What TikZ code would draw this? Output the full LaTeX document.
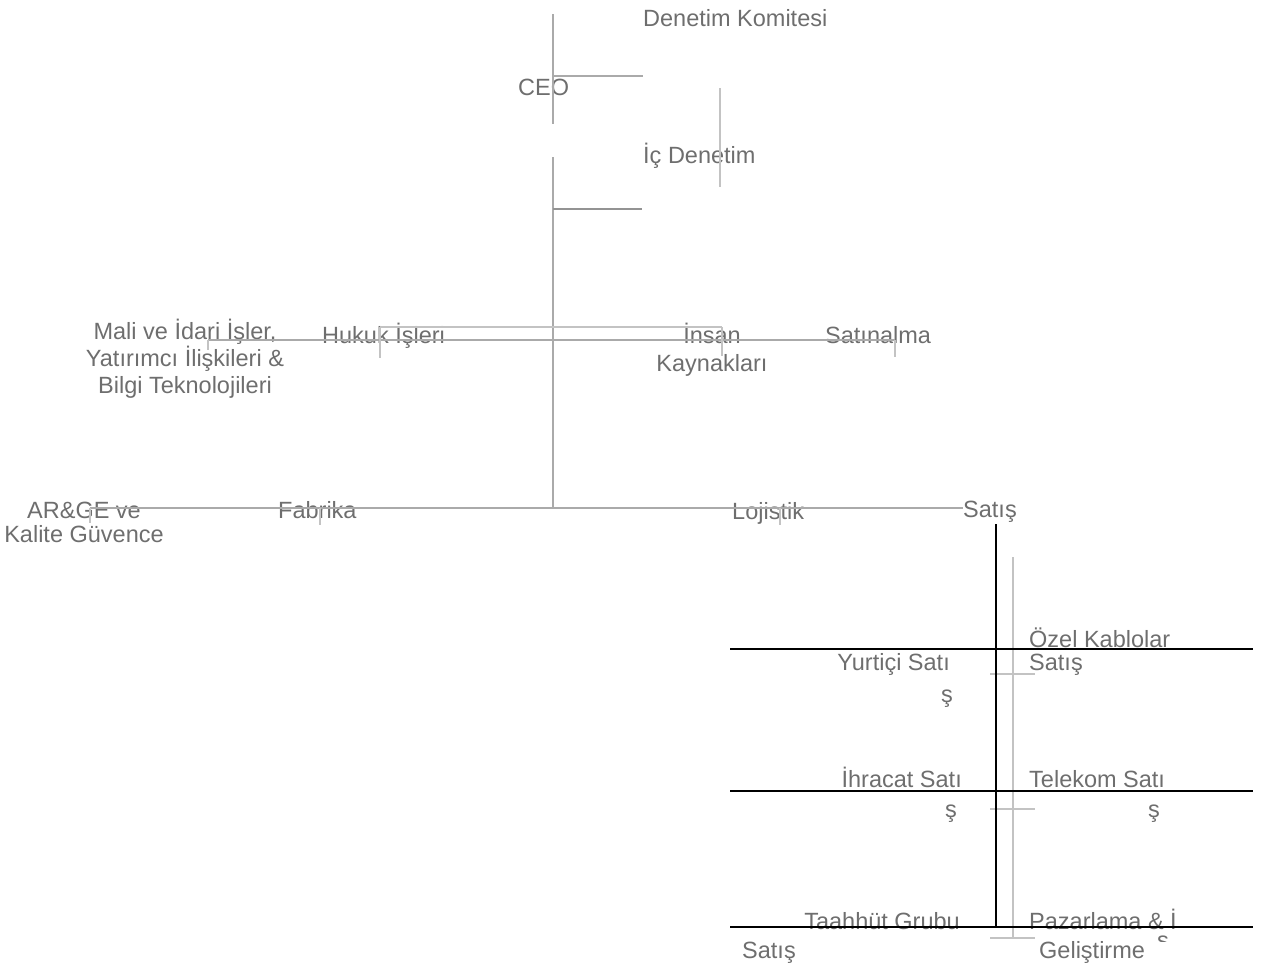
\documentclass[tikz,border=0pt]{standalone}
\usepackage{fontspec}
\setmainfont{Liberation Sans}
\usetikzlibrary{positioning}
\definecolor{txtgray}{RGB}{110,110,110}
\definecolor{linegray}{RGB}{170,170,170}
\definecolor{palegray}{RGB}{195,195,195}

\begin{document}
\begin{tikzpicture}[x=1pt,y=-1pt,
    font=\fontsize{23.5}{27}\selectfont,
    unit/.style={text=txtgray, inner sep=0pt, align=center},
    link/.style={draw=linegray, line width=1.3pt},
    sublink/.style={draw=palegray, line width=1.3pt},
    salesline/.style={draw=black, line width=2.3pt}]

\useasboundingbox (0,0) rectangle (1271,969);

% Board level
\node[unit, anchor=base west] (komite) at (643,26) {Denetim Komitesi};
\node[unit, anchor=base west] (ceo) at (518,95) {CEO};
\node[unit, anchor=base west] (icdenetim) at (643,163) {İç Denetim};

% Staff units (multi-line: base is the last line)
\node[unit, anchor=base,
    font=\fontsize{23.5}{27}\selectfont] (mali) at (185,393)
    {Mali ve İdari İşler,\\ Yatırımcı İlişkileri \&\\ Bilgi Teknolojileri};
\node[unit, anchor=base west] (hukuk) at (322,343) {Hukuk İşleri};
\node[unit, anchor=base,
    font=\fontsize{23.5}{28}\selectfont] (ik) at (712,371) {İnsan\\ Kaynakları};
\node[unit, anchor=base west] (satinalma) at (825,343) {Satınalma};

% Line units
\node[unit, anchor=base,
    font=\fontsize{23.5}{24}\selectfont] (arge) at (84,542) {AR\&GE ve\\ Kalite Güvence};
\node[unit, anchor=base west] (fabrika) at (278,518) {Fabrika};
\node[unit, anchor=base west] (lojistik) at (732,519) {Lojistik};
\node[unit, anchor=base west] (satis) at (963,517) {Satış};

% Sales groups
\node[unit, anchor=base west, align=left,
    font=\fontsize{23.5}{23}\selectfont] (ozel) at (1029,670) {Özel Kablolar\\ Satış};
\node[unit, anchor=base east] (yurtici) at (950,670) {Yurtiçi Satı};
\node[unit, anchor=base east] (yurticiS) at (953,702) {ş};
\node[unit, anchor=base east] (ihracat) at (962,787) {İhracat Satı};
\node[unit, anchor=base east] (ihracatS) at (957,817) {ş};
\node[unit, anchor=base west] (telekom) at (1029,787) {Telekom Satı};
\node[unit, anchor=base west] (telekomS) at (1148,817) {ş};
\node[unit, anchor=base east] (taahhut) at (960,929) {Taahhüt Grubu};
\node[unit, anchor=base west] (taahhutS) at (742,958) {Satış};
\node[unit, anchor=base west] (pazarlama) at (1029,929) {Pazarlama \& İ};
\node[unit, anchor=base west] (pazarlamaS) at (1039,958) {Geliştirme};
\begin{scope}
\clip (1150,935) rectangle (1180,941);
\node[unit, anchor=base west] (kesik) at (1157,948) {ş};
\end{scope}

% Connector points
\coordinate (c1) at (553,14);
\coordinate (c2) at (553,124);
\coordinate (c3) at (553,76);
\coordinate (c4) at (643,76);
\coordinate (c5) at (720,88);
\coordinate (c6) at (720,187);
\coordinate (c7) at (553,157);
\coordinate (c8) at (553,508);
\coordinate (c9) at (553,209);
\coordinate (c10) at (642,209);
\coordinate (u1) at (380,327);
\coordinate (u2) at (722,327);
\coordinate (u3) at (208,340);
\coordinate (u4) at (895,340);
\coordinate (h1) at (90,508);
\coordinate (h2) at (963,508);

% Gray connectors
\draw[link] (c1) -- (c2);
\draw[link] (c3) -- (c4);
\draw[sublink] (c5) -- (c6);
\draw[link] (c7) -- (c8);
\draw[link, line width=1.8pt, draw=gray!85] (c9) -- (c10);
\draw[sublink] (u1) -- (u2);
\draw[link] (u3) -- (u4);
\draw[sublink] (u3) -- ++(0,10)
    (u1) -- ++(0,31)
    (u2) -- ++(0,29)
    (u4) -- ++(0,17);
\draw[link] (h1) -- (h2);
\draw[sublink] (h1) -- ++(0,15)
    (320,508) -- ++(0,17)
    (780,508) -- ++(0,17);

% Sales subtree
\coordinate (s1) at (1013,557);
\coordinate (s2) at (1013,938);
\draw[sublink] (s1) -- (s2);
\foreach \yy in {674,809,938}
    \draw[sublink] (990,\yy) -- (1035,\yy);

\coordinate (b1) at (996,524);
\coordinate (b2) at (996,927);
\draw[salesline] (b1) -- (b2);
\foreach \yy in {649,791,927}
    \draw[salesline] (730,\yy) -- (1253,\yy);

\end{tikzpicture}
\end{document}
